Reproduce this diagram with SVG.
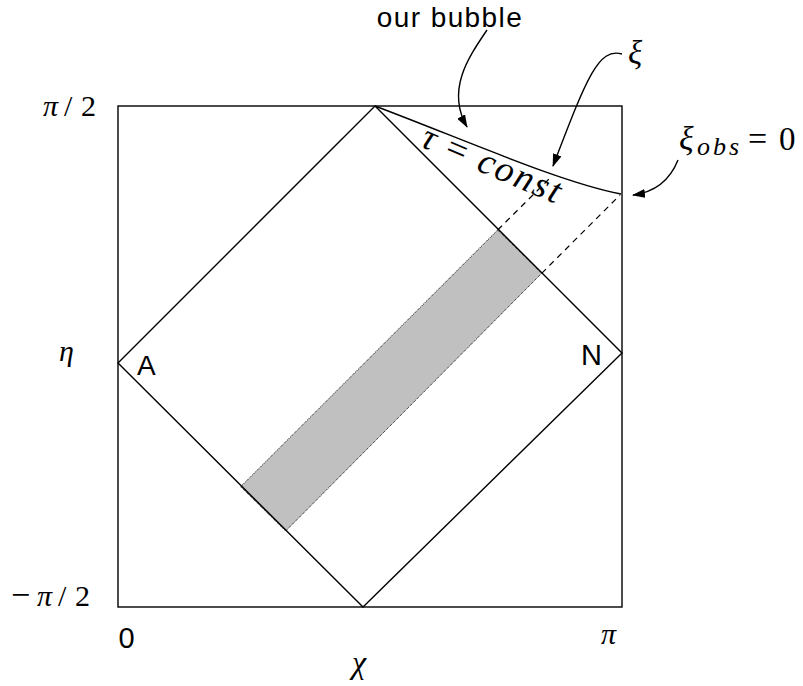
<svg xmlns="http://www.w3.org/2000/svg" width="803" height="686" viewBox="0 0 803 686">
<style>
.ln{fill:none;stroke:#000;stroke-width:1.4}
.dash{fill:none;stroke:#000;stroke-width:1.2;stroke-dasharray:6 5}
.arr{fill:none;stroke:#000;stroke-width:1.4}
.sans{font-family:"Liberation Sans",Arial,sans-serif;fill:#000}
.math{font-family:"Liberation Serif","DejaVu Serif",serif;font-style:italic;fill:#000}
.up{font-style:normal}
</style>
<defs>
<marker id="ah" markerWidth="13" markerHeight="9" refX="12" refY="4.5" orient="auto" markerUnits="userSpaceOnUse">
<path d="M0,0 L13,4.5 L0,9 Z" fill="#000"/>
</marker>
</defs>
<rect width="803" height="686" fill="#fff"/>
<g id="frame">
<rect x="118" y="106" width="504" height="501" class="ln" stroke-width="1.6"/>
</g>
<g id="band">
<polygon points="497.7,230 541.7,273.3 285.7,531 240.7,486.7" fill="#c0c0c0" stroke="#000" stroke-width="1" stroke-dasharray="1 1"/>
</g>
<g id="diamond">
<path class="ln" d="M375,106 L118,363 L363,607 L622,353 Z"/>
</g>
<g id="bubble">
<path class="ln" d="M375,106 C470,142 560,182 621,194"/>
<text class="math" font-size="37" transform="translate(419,146) rotate(23)"><tspan x="0">τ</tspan><tspan class="up" x="26">=</tspan><tspan x="61" textLength="87">const</tspan></text>
</g>
<g id="connectors">
<path class="dash" d="M497.7,230 L552,176"/>
<path class="dash" d="M541.7,273.3 L620,195"/>
<path class="arr" marker-end="url(#ah)" d="M487,30 C468,58 446,90 467,127"/>
<path class="arr" marker-end="url(#ah)" d="M622,54 C598,47 586,80 553,166"/>
<path class="arr" marker-end="url(#ah)" d="M678,160 C670,180 656,192 633,195"/>
</g>
<g id="label-bubble"><text class="sans" font-size="28" letter-spacing="1.4" x="450" y="27" text-anchor="middle">our bubble</text></g>
<g id="label-xi"><text class="math" font-size="33" x="628" y="64">ξ</text></g>
<g id="label-xiobs"><text class="math" font-size="34" y="150"><tspan x="679">ξ</tspan><tspan font-size="26" x="697" dy="5" textLength="42">obs</tspan><tspan class="up" font-size="34" x="748" dy="-5">=</tspan><tspan class="up" font-size="33" x="779">0</tspan></text></g>
<g id="label-A"><text class="sans" font-size="28" x="137" y="375">A</text></g>
<g id="label-N"><text class="sans" font-size="29" x="581" y="365">N</text></g>
<g id="axis-labels">
<text class="math" font-size="30" y="116"><tspan x="43">π</tspan><tspan class="up" x="64">/</tspan><tspan class="up" x="81">2</tspan></text>
<text class="math" font-size="30" x="59" y="361">η</text>
<text class="math" font-size="30" y="606"><tspan class="up" x="11" font-size="34">−</tspan><tspan x="37">π</tspan><tspan class="up" x="58">/</tspan><tspan class="up" x="75">2</tspan></text>
<text class="sans" font-size="29" x="126.5" y="648" text-anchor="middle">0</text>
<text class="math" font-size="30" x="601" y="644">π</text>
<text class="math" font-size="32" x="352" y="673">χ</text>
</g>
</svg>
